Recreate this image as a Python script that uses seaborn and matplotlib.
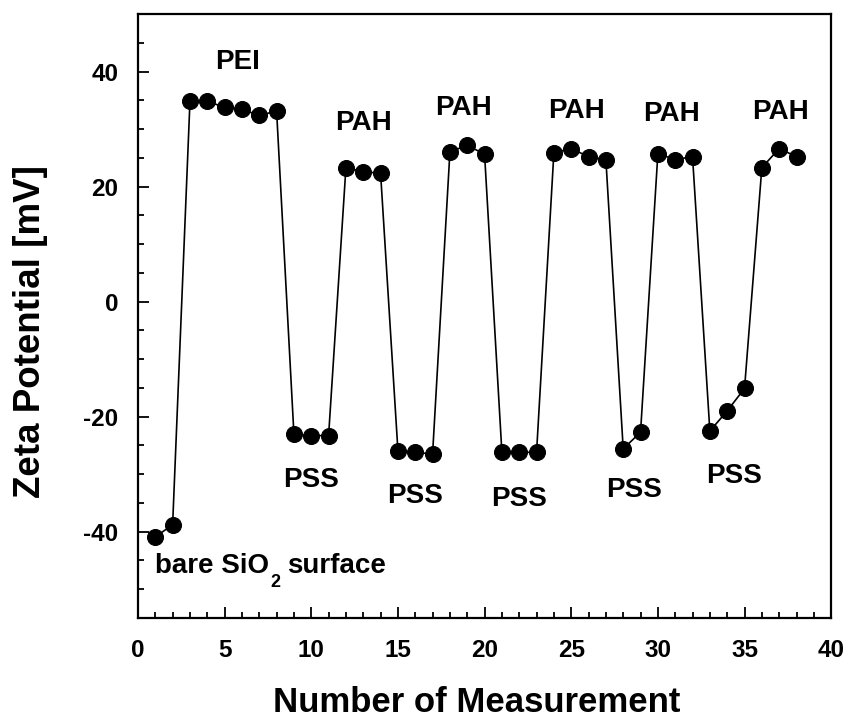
import matplotlib
matplotlib.use("Agg")
import matplotlib.pyplot as plt
import seaborn as sns
import pandas as pd
from matplotlib.ticker import MultipleLocator

measurement = list(range(1, 39))
zeta = [-40.9, -38.8,
        34.8, 34.8, 33.8, 33.4, 32.4, 33.1,
        -23.1, -23.3, -23.3,
        23.3, 22.6, 22.3,
        -25.9, -26.2, -26.5,
        26.0, 27.2, 25.6,
        -26.2, -26.2, -26.2,
        25.9, 26.6, 25.2, 24.7,
        -25.6, -22.7,
        25.7, 24.7, 25.2,
        -22.5, -19.0, -15.1,
        23.3, 26.6, 25.2]

layer_labels = ["PEI", "PAH", "PAH", "PAH", "PAH", "PAH",
                "PSS", "PSS", "PSS", "PSS", "PSS"]
label_x = [5.74, 13.0, 18.8, 25.3, 30.8, 37.1,
           10.0, 16.0, 22.0, 28.6, 34.4]
label_y = [41.6, 31.0, 33.6, 33.2, 32.7, 32.9,
           -31.0, -33.8, -34.4, -32.7, -30.3]

sns.set_style("ticks")
plt.rcParams['font.family'] = ['Liberation Sans', 'DejaVu Sans']
plt.rcParams['font.weight'] = 'bold'
plt.rcParams['axes.unicode_minus'] = False
for k in ['text.color', 'axes.labelcolor', 'xtick.color', 'ytick.color', 'axes.edgecolor']:
    plt.rcParams[k] = 'black'

df = pd.DataFrame({"n": measurement, "z": zeta})

fig = plt.figure(figsize=(8.49, 7.26), dpi=100)
ax = fig.add_axes([0.1625, 0.1488, 0.979 - 0.1625, 0.9807 - 0.1488])

sns.lineplot(data=df, x="n", y="z", ax=ax, color="black", linewidth=1.2,
             marker="o", markersize=11.5, markeredgecolor="black",
             markerfacecolor="black")

ax.set_xlim(0, 40)
ax.set_ylim(-55, 50)
ax.xaxis.set_major_locator(MultipleLocator(5))
ax.xaxis.set_minor_locator(MultipleLocator(1))
ax.yaxis.set_major_locator(MultipleLocator(20))
ax.yaxis.set_minor_locator(MultipleLocator(5))
ax.tick_params(which="both", direction="in", top=False, right=False,
               width=1.3, labelsize=17.5, colors="black")
ax.tick_params(axis="y", pad=14)
ax.tick_params(axis="x", pad=15)
ax.tick_params(which="major", length=8)
ax.tick_params(which="minor", length=4)
for lab in ax.get_xticklabels() + ax.get_yticklabels():
    lab.set_fontweight("bold")
for s in ax.spines.values():
    s.set_linewidth(1.6)
    s.set_color("black")

ax.set_xlabel("Number of Measurement", fontsize=25, fontweight="bold", va="top")
ax.set_ylabel("Zeta Potential [mV]", fontsize=26.5, fontweight="bold")
ax.xaxis.set_label_coords(0.488, -0.113)
ax.yaxis.set_label_coords(-0.13, 0.475)

for t, x, y in zip(layer_labels, label_x, label_y):
    ax.text(x, y, t, fontsize=20, fontweight="bold", ha="center", va="center")

t1 = ax.text(1.0, -45.9, "bare SiO", fontsize=20, fontweight="bold",
             ha="left", va="center")
t2 = ax.annotate("2", xy=(1, 0), xycoords=t1, xytext=(0.5, 3),
                 textcoords="offset points", fontsize=13, fontweight="bold",
                 ha="left", va="top")
ax.annotate("surface", xy=(1, 0.5), xycoords=(t2, t1), xytext=(5, 0),
            textcoords="offset points", fontsize=20, fontweight="bold",
            ha="left", va="center")

fig.savefig("out.png", dpi=100)
